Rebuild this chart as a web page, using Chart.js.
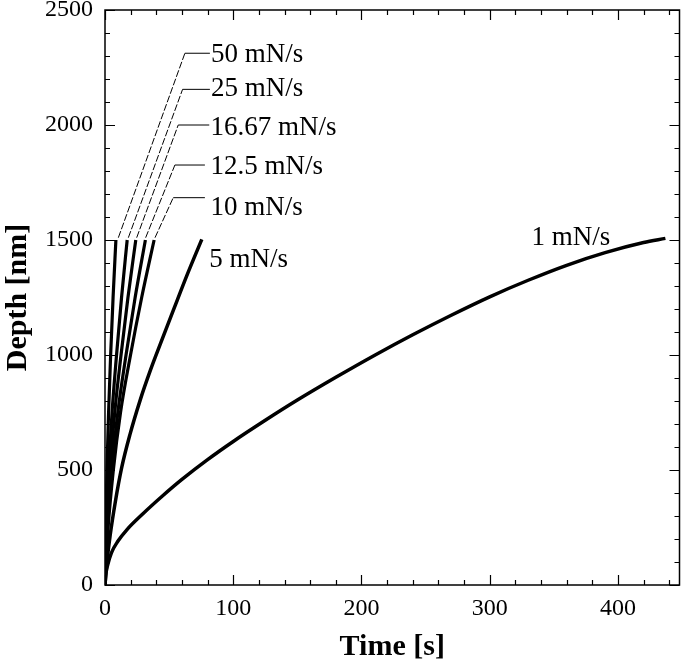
<!DOCTYPE html>
<html>
<head>
<meta charset="utf-8">
<script src="https://cdn.jsdelivr.net/npm/chart.js@4.4.1/dist/chart.umd.min.js"></script>
<style>
  html, body { margin: 0; padding: 0; background: #fff; }
  #wrap { width: 685px; height: 665px; position: relative; }
</style>
</head>
<body>
<div id="wrap"><canvas id="depthChart"></canvas></div>
<script>
// series: time [s] vs depth [nm]
const time1 = [0, 0.5, 2, 5, 10, 17, 30, 45, 60, 80, 100, 125, 150, 180, 210, 240, 270, 300, 330, 360, 390, 420, 437];
const depth1 = [0, 40, 85, 140, 190, 240, 312, 388, 459, 545, 624, 716, 804, 903, 998, 1088, 1173, 1253, 1325, 1390, 1445, 1489, 1507];

const time5 = [0, 0.3, 1.5, 4, 8, 13, 19.5, 27.5, 35.5, 44, 54, 64.5, 75.5];
const depth5 = [0, 20, 100, 215, 360, 510, 655, 805, 935, 1060, 1205, 1355, 1503];

const depthFast = [0, 100, 250, 500, 750, 1000, 1250, 1500];
const time10 = [0, 0.7, 2.4, 6.5, 12.1, 19.9, 28.6, 38.3];
const time12 = [0, 0.6, 2.0, 5.3, 10, 16.4, 23.5, 31.5];
const time16 = [0, 0.5, 1.5, 4.0, 7.6, 12.5, 17.9, 24];
const time25 = [0, 0.3, 1.1, 2.9, 5.5, 9.0, 12.9, 17.3];
const time50 = [0, 0.2, 0.6, 1.5, 2.8, 4.4, 6.3, 8.5];

// leader lines from curve ends to the rate labels
const leaderNames = ['50 mN/s', '25 mN/s', '16.67 mN/s', '12.5 mN/s', '10 mN/s'];
const leaderStartT = [10.4, 18.2, 24.7, 31.7, 39];
const leaderCornerT = [62.3, 60.5, 57.1, 54.5, 53.2];
const leaderEndT = [81.8, 81.8, 81.3, 77.9, 77.9];
const leaderD = [2312, 2155, 2000, 1826, 1684];
const leaderStartD = 1510;

const labelTexts = ['50 mN/s', '25 mN/s', '16.67 mN/s', '12.5 mN/s', '10 mN/s', '5 mN/s', '1 mN/s'];
const labelT = [82.6, 82.6, 82.2, 82.2, 82.2, 81.3, 332.5];
const labelD = [2304, 2155, 1986, 1819, 1638, 1413, 1507];

const xMajor = [0, 100, 200, 300, 400];
const yMajor = [0, 500, 1000, 1500, 2000, 2500];

const toPoints = (xs, ys) => xs.map((x, i) => ({ x, y: ys[i] }));

function curve(label, xs, ys, width) {
  return {
    label,
    data: toPoints(xs, ys),
    showLine: true,
    borderColor: '#000',
    backgroundColor: '#000',
    borderWidth: width,
    pointRadius: 0,
    cubicInterpolationMode: 'monotone'
  };
}

const datasets = [
  curve('1 mN/s', time1, depth1, 3.5),
  curve('5 mN/s', time5, depth5, 3.5),
  curve('10 mN/s', time10, depthFast, 3.2),
  curve('12.5 mN/s', time12, depthFast, 3.2),
  curve('16.67 mN/s', time16, depthFast, 3.2),
  curve('25 mN/s', time25, depthFast, 3.2),
  curve('50 mN/s', time50, depthFast, 3.2)
];

leaderNames.forEach((name, i) => {
  datasets.push({
    label: name + ' leader',
    data: [
      { x: leaderStartT[i], y: leaderStartD },
      { x: leaderCornerT[i], y: leaderD[i] },
      { x: leaderEndT[i], y: leaderD[i] }
    ],
    showLine: true,
    borderColor: '#000',
    borderWidth: 1,
    pointRadius: 0,
    tension: 0,
    segment: {
      borderDash: ctx => ctx.p0.parsed.y !== ctx.p1.parsed.y ? [7, 2] : undefined
    }
  });
});

// frame with inward major/minor ticks on all four sides
const frameTicks = {
  id: 'frameTicks',
  afterDatasetsDraw(chart) {
    const { ctx, chartArea: a, scales: { x, y } } = chart;
    ctx.save();
    ctx.strokeStyle = '#000';
    ctx.lineWidth = 1.5;
    ctx.strokeRect(a.left, a.top, a.right - a.left, a.bottom - a.top);
    ctx.lineWidth = 1.2;
    ctx.beginPath();
    for (let v = 0; v <= x.max; v += 20) {
      const px = Math.round(x.getPixelForValue(v)) + 0.5;
      const len = v % 100 === 0 ? 10 : 5;
      ctx.moveTo(px, a.bottom); ctx.lineTo(px, a.bottom - len);
      ctx.moveTo(px, a.top); ctx.lineTo(px, a.top + len);
    }
    for (let v = 0; v <= y.max; v += 100) {
      const py = Math.round(y.getPixelForValue(v)) + 0.5;
      const len = v % 500 === 0 ? 10 : 5;
      ctx.moveTo(a.left, py); ctx.lineTo(a.left + len, py);
      ctx.moveTo(a.right, py); ctx.lineTo(a.right - len, py);
    }
    ctx.stroke();

    ctx.fillStyle = '#000';
    ctx.font = '27px "Liberation Serif", "Times New Roman", serif';
    ctx.textAlign = 'left';
    ctx.textBaseline = 'middle';
    labelTexts.forEach((t, i) => {
      ctx.fillText(t, x.getPixelForValue(labelT[i]), y.getPixelForValue(labelD[i]));
    });
    ctx.restore();
  }
};

const tickFont = { family: '"Liberation Serif", "Times New Roman", serif', size: 24 };
const titleFont = { family: '"Liberation Serif", "Times New Roman", serif', size: 30, weight: 'bold' };

new Chart(document.getElementById('depthChart'), {
  type: 'scatter',
  data: { datasets },
  options: {
    responsive: true,
    maintainAspectRatio: false,
    animation: false,
    devicePixelRatio: 1,
    layout: { autoPadding: false, padding: { left: 0, right: 5.5, top: 10, bottom: 0 } },
    plugins: { legend: { display: false }, tooltip: { enabled: false } },
    scales: {
      x: {
        type: 'linear',
        min: 0,
        max: 448,
        afterFit: s => { s.height = 80; s.paddingLeft = 0; s.paddingRight = 0; },
        afterBuildTicks: s => { s.ticks = xMajor.map(v => ({ value: v })); },
        grid: { display: false, drawTicks: false },
        border: { display: false },
        ticks: { color: '#000', font: tickFont, padding: 9, maxRotation: 0, callback: v => String(v) },
        title: { display: true, text: 'Time [s]', color: '#000', font: titleFont, padding: 0 }
      },
      y: {
        type: 'linear',
        min: 0,
        max: 2500,
        afterFit: s => { s.width = 105; s.paddingTop = 0; s.paddingBottom = 0; },
        afterBuildTicks: s => { s.ticks = yMajor.map(v => ({ value: v })); },
        grid: { display: false, drawTicks: false },
        border: { display: false },
        ticks: { color: '#000', font: tickFont, padding: 12, callback: v => String(v) },
        title: { display: true, text: 'Depth [nm]', color: '#000', font: titleFont, padding: 0 }
      }
    }
  },
  plugins: [frameTicks]
});
</script>
</body>
</html>
